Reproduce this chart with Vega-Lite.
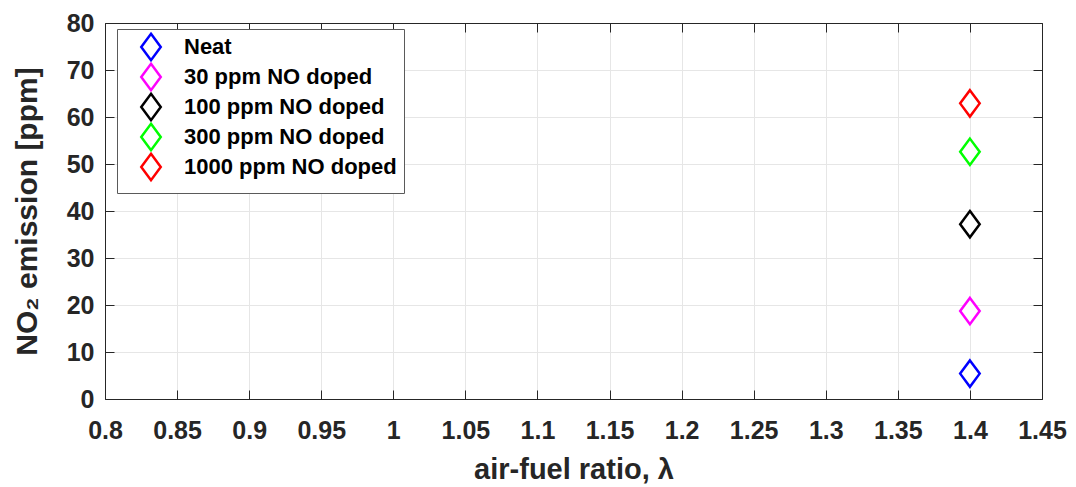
{
  "$schema": "https://vega.github.io/schema/vega-lite/v6.json",
  "autosize": "none",
  "width": 937,
  "height": 376,
  "padding": {"left": 105, "top": 23, "right": 34, "bottom": 88},
  "background": "white",
  "config": {
    "view": {"stroke": null},
    "font": "Liberation Sans"
  },
  "data": {
    "values": [
      {"lambda": 1.4, "no2": 5.4, "case": "Neat"},
      {"lambda": 1.4, "no2": 18.7, "case": "30 ppm NO doped"},
      {"lambda": 1.4, "no2": 37.2, "case": "100 ppm NO doped"},
      {"lambda": 1.4, "no2": 52.6, "case": "300 ppm NO doped"},
      {"lambda": 1.4, "no2": 62.9, "case": "1000 ppm NO doped"}
    ]
  },
  "layer": [
    {
      "mark": {"type": "point", "shape": "M0,-1.35L1,0L0,1.35L-1,0Z", "size": 380, "strokeWidth": 2.5, "fill": "white", "filled": false, "opacity": 1},
      "encoding": {
        "x": {
          "field": "lambda", "type": "quantitative",
          "scale": {"domain": [0.8, 1.45], "nice": false, "zero": false},
          "axis": {
            "orient": "bottom",
            "title": "air-fuel ratio, λ",
            "values": [0.8, 0.85, 0.9, 0.95, 1, 1.05, 1.1, 1.15, 1.2, 1.25, 1.3, 1.35, 1.4, 1.45],
            "labelExpr": "format(datum.value, '~g')",
            "labelFontSize": 25, "labelFontWeight": "bold", "labelColor": "#262626",
            "labelPadding": 28, "labelFlush": false, "labelOverlap": false,
            "tickSize": -9, "tickColor": "#262626", "tickWidth": 1,
            "domainColor": "#262626", "domainWidth": 1,
            "grid": true, "gridColor": "#e6e6e6", "gridWidth": 1,
            "titleFontSize": 29, "titleFontWeight": "bold", "titleColor": "#262626",
            "titlePadding": 12
          }
        },
        "y": {
          "field": "no2", "type": "quantitative",
          "scale": {"domain": [0, 80], "nice": false},
          "axis": {
            "orient": "left",
            "title": "NO₂ emission [ppm]",
            "values": [0, 10, 20, 30, 40, 50, 60, 70, 80],
            "labelFontSize": 25, "labelFontWeight": "bold", "labelColor": "#262626",
            "labelPadding": 20, "labelOverlap": false,
            "tickSize": -9, "tickColor": "#262626", "tickWidth": 1,
            "domainColor": "#262626", "domainWidth": 1,
            "grid": true, "gridColor": "#e6e6e6", "gridWidth": 1,
            "titleFontSize": 30, "titleFontWeight": "bold", "titleColor": "#262626",
            "titlePadding": 24
          }
        },
        "color": {
          "field": "case", "type": "nominal",
          "sort": ["Neat", "30 ppm NO doped", "100 ppm NO doped", "300 ppm NO doped", "1000 ppm NO doped"],
          "scale": {
            "domain": ["Neat", "30 ppm NO doped", "100 ppm NO doped", "300 ppm NO doped", "1000 ppm NO doped"],
            "range": ["#0000ff", "#ff00ff", "#000000", "#00ff00", "#ff0000"]
          },
          "legend": {
            "title": null,
            "orient": "none",
            "legendX": 12,
            "legendY": 6,
            "padding": 7,
            "strokeColor": "#5a5a5a",
            "fillColor": "white",
            "symbolType": "M0,-1.35L1,0L0,1.35L-1,0Z",
            "symbolSize": 380,
            "symbolStrokeWidth": 2.5,
            "symbolFillColor": "white",
            "symbolOffset": 16,
            "labelFontSize": 22,
            "labelFontWeight": "bold",
            "labelColor": "black",
            "labelOffset": 22,
            "labelLimit": 400,
            "rowPadding": -8.5
          }
        }
      }
    },
    {
      "mark": {"type": "point", "opacity": 0},
      "encoding": {
        "x": {
          "field": "lambda", "type": "quantitative",
          "axis": {
            "orient": "top", "title": null, "labels": false, "grid": false,
            "values": [0.8, 0.85, 0.9, 0.95, 1, 1.05, 1.1, 1.15, 1.2, 1.25, 1.3, 1.35, 1.4, 1.45],
            "tickSize": -9, "tickColor": "#262626", "domainColor": "#262626"
          }
        },
        "y": {
          "field": "no2", "type": "quantitative",
          "axis": {
            "orient": "right", "title": null, "labels": false, "grid": false,
            "values": [0, 10, 20, 30, 40, 50, 60, 70, 80],
            "tickSize": -9, "tickColor": "#262626", "domainColor": "#262626"
          }
        }
      }
    }
  ],
  "resolve": {"axis": {"x": "independent", "y": "independent"}}
}
